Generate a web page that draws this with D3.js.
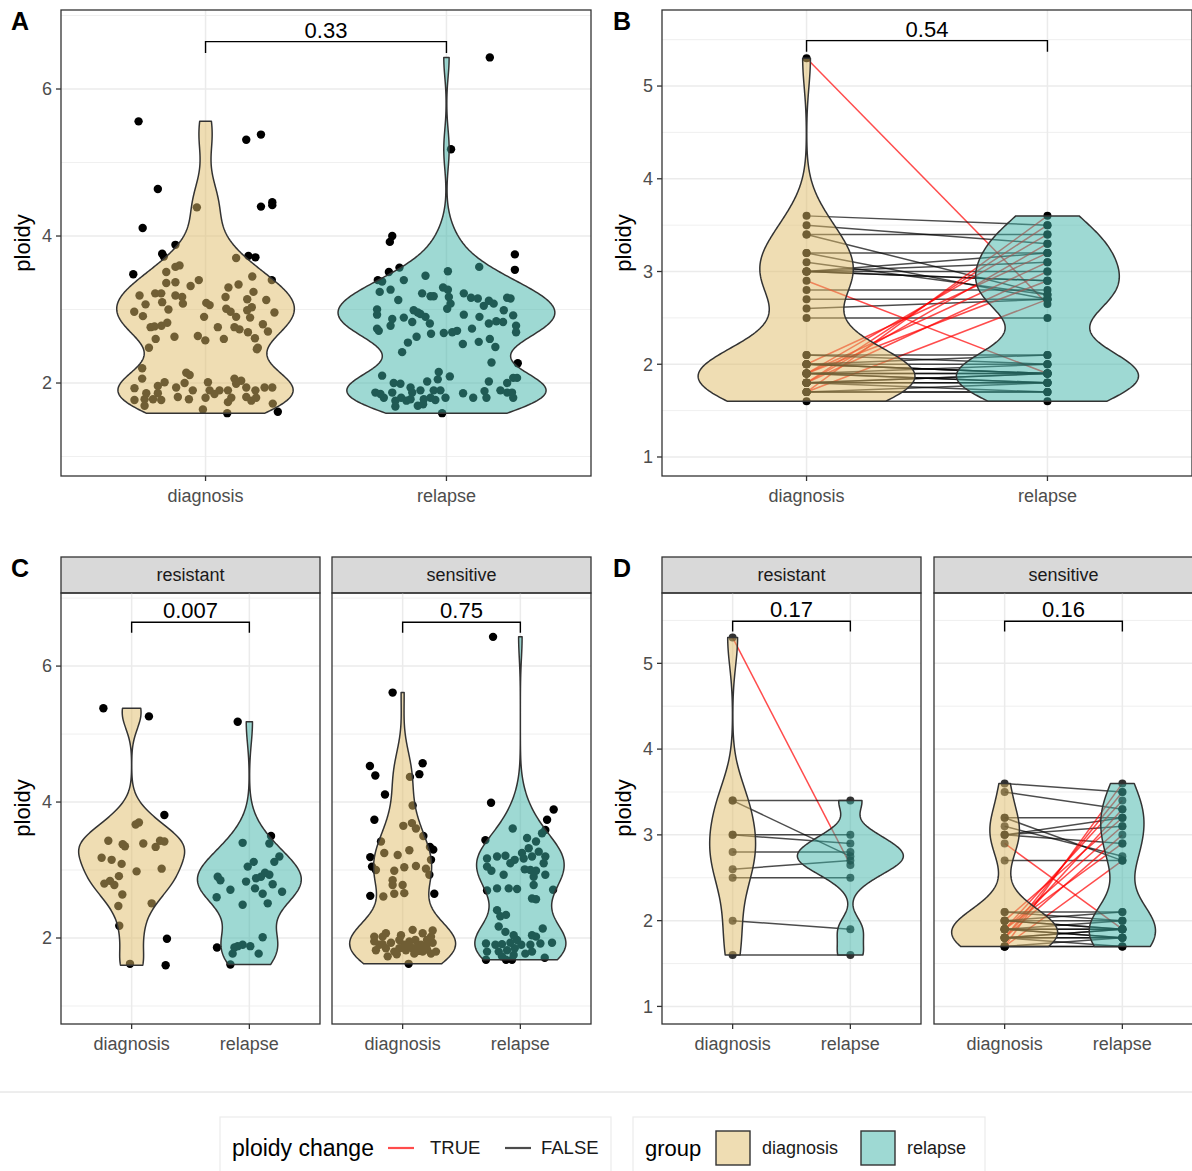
<!DOCTYPE html>
<html>
<head>
<meta charset="utf-8">
<script src="https://cdn.jsdelivr.net/npm/d3@7"></script>
<style>
  body { margin: 0; background: #fff; }
  svg { display: block; font-family: "Liberation Sans", Arial, Helvetica, sans-serif; }
</style>
</head>
<body>
<script>
// categories
var groups = ["diagnosis", "relapse"];
var facets = ["resistant", "sensitive"];

// p-values shown on the brackets
var pAll = { unpaired: "0.33", paired: "0.54" };
var pFacetUnpaired = ["0.007", "0.75"];
var pFacetPaired = ["0.17", "0.16"];

// tick values
var ticksUnpaired = [2, 4, 6];
var minorUnpaired = [1, 3, 5, 7];
var ticksPaired = [1, 2, 3, 4, 5];
var minorPaired = [1.5, 2.5, 3.5, 4.5, 5.5];

// panel A: [jitter (category units), ploidy]
var allDiagnosis = [
  [-0.278,5.56],[0.169,5.31],[0.23,5.38],[-0.198,4.64],[0.23,4.40],[0.277,4.46],[0.277,4.42],[-0.261,4.11],
  [-0.18,3.76],[-0.125,3.88],[-0.173,3.72],[0.178,3.73],[0.207,3.71],[-0.30,3.48],[0.275,3.40],[-0.235,2.48],
  [0.217,2.48],[0.09,1.59],[0.30,1.61],
  [-0.036,4.39],[0.127,3.70],[-0.108,3.60],[-0.125,3.58],[-0.163,3.51],[0.194,3.45],[-0.028,3.40],[-0.062,3.32],
  [-0.125,3.37],[-0.163,3.36],[0.095,3.30],[0.137,3.34],[0.199,3.24],[-0.274,3.19],[-0.209,3.22],[-0.184,3.22],
  [-0.125,3.19],[-0.097,3.17],[0.083,3.17],[0.252,3.13],[0.173,3.14],[-0.18,3.10],[-0.249,3.07],[-0.094,3.08],
  [0.003,3.09],[0.017,3.06],[0.192,3.03],[0.086,3.01],[0.104,2.97],[0.173,2.99],[-0.154,3.00],[-0.296,2.97],
  [-0.26,2.91],[-0.006,2.90],[0.185,2.89],[0.286,2.96],[0.127,2.90],[-0.228,2.76],[-0.212,2.77],[-0.183,2.78],
  [-0.159,2.82],[0.238,2.80],[0.051,2.76],[0.12,2.76],[0.141,2.73],[0.176,2.69],[0.259,2.70],[-0.129,2.63],
  [-0.207,2.60],[-0.032,2.64],[-0.001,2.58],[0.076,2.60],[0.205,2.61],[0.213,2.46],
  [-0.263,2.20],[-0.263,2.06],[-0.08,2.14],[-0.066,2.11],[-0.17,2.01],[-0.198,1.96],[-0.295,1.93],[-0.246,1.86],
  [-0.198,1.86],[-0.122,1.94],[-0.087,2.00],[-0.053,1.90],[0.01,2.01],[0.017,1.90],[0.058,1.90],[0.093,1.90],
  [0.12,2.06],[0.127,1.99],[0.148,2.03],[0.169,1.94],[0.245,1.94],[0.277,1.94],[0.207,1.90],[-0.295,1.77],
  [-0.253,1.78],[-0.218,1.78],[-0.184,1.77],[-0.115,1.81],[-0.069,1.78],[0,1.80],[0.037,1.85],[0.107,1.80],
  [0.169,1.81],[0.21,1.80],[-0.253,1.69],[-0.011,1.64],[0.279,1.72],[0.093,1.74],[0.19,1.76]
];
var allRelapse = [
  [0.18,6.43],[0.019,5.18],[-0.225,4.00],[-0.235,3.92],[0.284,3.75],[0.284,3.54],[-0.285,3.40],[-0.239,3.51],
  [-0.195,3.57],[0.296,2.27],[-0.018,1.59],
  [0.006,3.52],[0.136,3.58],[-0.087,3.46],[-0.177,3.40],[-0.267,3.38],[-0.277,3.24],[-0.232,3.27],[-0.2,3.13],
  [-0.101,3.22],[-0.066,3.18],[-0.053,3.18],[-0.014,3.30],[0.006,3.27],[0.01,3.17],[0.017,3.08],[0.003,3.01],
  [0.072,3.22],[0.102,3.16],[0.13,3.15],[0.155,3.05],[0.176,3.12],[0.196,3.08],[0.252,3.16],[0.266,3.15],
  [0.238,2.99],[0.277,2.92],[-0.288,3.00],[-0.288,2.93],[-0.136,2.99],[-0.119,2.96],[-0.108,2.94],[-0.087,2.90],
  [-0.069,2.81],[-0.142,2.83],[-0.177,2.89],[-0.225,2.87],[-0.232,2.78],[0.072,2.93],[0.137,2.90],[0.176,2.81],
  [0.207,2.84],[0.235,2.83],[0.289,2.78],[0.289,2.69],[-0.288,2.74],[-0.281,2.71],[-0.124,2.63],[-0.16,2.55],
  [-0.064,2.67],[-0.011,2.68],[0.024,2.69],[0.044,2.71],[0.106,2.74],[0.068,2.53],[0.134,2.56],[0.18,2.60],
  [0.203,2.49],[-0.184,2.42],[0.187,2.28],
  [-0.267,2.10],[-0.032,2.15],[-0.036,2.05],[0.014,2.09],[-0.08,2.02],[0.176,2.02],[0.277,2.07],[0.293,2.07],
  [0.252,2.00],[-0.219,2.00],[-0.191,1.99],[-0.149,1.94],[-0.295,1.87],[-0.274,1.85],[-0.225,1.87],[-0.142,1.87],
  [-0.108,1.90],[-0.053,1.90],[-0.025,1.90],[-0.004,1.80],[-0.066,1.80],[-0.094,1.78],[-0.149,1.78],[-0.212,1.76],
  [-0.26,1.80],[-0.166,1.76],[-0.119,1.69],[-0.212,1.68],[0.069,1.86],[0.111,1.80],[0.158,1.89],[0.166,1.80],
  [0.224,1.90],[0.252,1.87],[0.277,1.80],[0.272,1.87],[-0.046,1.77],[-0.097,1.71],[-0.188,1.80]
];

// panel C: [jitter, ploidy] per response group
var resistantDiagnosis = [
  [-0.24,5.38],[0.147,5.26],[0.278,3.81],[-0.105,2.18],[0.30,1.99],[0.289,1.60],[-0.014,1.62],[0.17,2.51],
  [0.034,3.67],[0.062,3.70],[-0.198,3.43],[-0.076,3.38],[-0.057,3.35],[0.099,3.39],[0.204,3.34],[0.241,3.43],
  [0.278,3.42],[-0.255,3.18],[-0.17,3.15],[-0.085,3.09],[0.255,3.02],[0.042,2.98],[-0.108,2.91],[-0.232,2.80],
  [-0.184,2.84],[-0.147,2.78],[-0.079,2.64],[-0.113,2.47]
];
var resistantRelapse = [
  [-0.099,5.18],[0.184,3.50],[-0.275,1.86],[-0.161,1.61],
  [-0.057,3.40],[0.17,3.39],[0.255,3.20],[0.212,3.12],[0.037,3.12],[-0.014,3.05],[-0.269,2.90],[-0.246,2.85],
  [-0.028,2.83],[0.057,2.88],[0.099,2.90],[0.133,2.96],[0.17,2.93],[0.048,2.73],[0.198,2.79],[-0.161,2.71],
  [0.113,2.65],[0.278,2.68],[-0.278,2.60],[-0.057,2.49],[0.156,2.51],[0.113,2.01],[-0.127,1.86],[-0.099,1.88],
  [-0.057,1.90],[-0.142,1.77],[0.008,1.88],[0.079,1.77]
];
var sensitiveDiagnosis = [
  [-0.085,5.61],[-0.278,4.53],[-0.232,4.39],[0.17,4.57],[0.142,4.41],[-0.15,4.11],[-0.24,3.74],[-0.275,3.19],
  [-0.275,2.62],[0.269,2.65],[0.26,3.30],[0.051,1.62],
  [0.062,4.37],[0.085,3.95],[0.079,3.69],[0.006,3.65],[0.113,3.61],[0.176,3.50],[0.232,3.34],[-0.184,3.42],
  [-0.156,3.25],[-0.042,3.22],[0.057,3.29],[0.241,3.15],[-0.26,3.05],[-0.227,3.00],[-0.071,2.99],[0.014,3.04],
  [0.113,3.06],[0.198,3.02],[0.227,2.93],[-0.085,2.85],[-0.085,2.78],[0,2.78],[-0.071,2.65],[0.014,2.66],
  [-0.164,2.61],
  [0.085,2.12],[-0.241,2.02],[-0.142,2.07],[0.17,2.07],[0.255,2.11],[0.241,2.02],[-0.241,1.95],[-0.17,1.91],
  [-0.099,1.93],[-0.028,1.97],[0.014,1.90],[0.057,1.95],[0.108,1.97],[0.156,1.90],[0.207,1.97],[0.255,1.93],
  [-0.227,1.82],[-0.142,1.85],[-0.028,1.85],[0.028,1.82],[0.085,1.85],[0.136,1.81],[0.207,1.83],[0.283,1.80],
  [0.241,1.77],[-0.127,1.73],[0.099,1.77],[0.17,1.80],[-0.071,1.80],[-0.198,1.90],[-0.17,2.02],[-0.014,2.04],
  [0.06,1.88],[0.12,1.86],[-0.05,1.76],[0.2,1.88]
];
var sensitiveRelapse = [
  [-0.232,6.43],[-0.249,3.99],[0.283,3.89],[0.227,3.74],[0.212,3.59],[-0.297,3.44],[-0.283,2.70],[0.278,2.71],
  [-0.292,1.68],[-0.122,1.68],[-0.071,1.68],[0.207,1.71],
  [-0.065,3.61],[0.057,3.47],[0.133,3.42],[0.184,3.54],[0.071,3.32],[0.014,3.25],[0.156,3.27],[-0.283,3.17],
  [-0.198,3.20],[-0.127,3.21],[-0.048,3.15],[0.028,3.17],[0.099,3.20],[0.212,3.20],[0.198,3.10],[-0.085,3.10],
  [-0.283,3.05],[-0.246,2.99],[-0.142,2.93],[0.037,3.01],[0.085,3.00],[0.133,2.99],[0.113,2.90],[0.212,2.93],
  [0.113,2.78],[-0.198,2.73],[-0.099,2.73],[-0.028,2.72],[0.099,2.58],[0.133,2.57],[-0.198,2.41],[-0.17,2.32],
  [-0.122,2.34],[-0.184,2.17],[-0.127,2.09],[-0.057,2.04],[0.099,2.04],[0.19,2.14],[0.133,2.02],[-0.292,1.92],
  [-0.212,1.90],[-0.156,1.91],[-0.085,1.93],[-0.028,1.97],[0.008,1.90],[0.085,1.90],[0.17,1.92],[0.269,1.93],
  [-0.283,1.80],[-0.184,1.80],[-0.113,1.82],[-0.048,1.85],[0.042,1.77],[0.099,1.80],[-0.057,1.75],[-0.156,1.73]
];

// panels B and D: paired samples [response, diagnosis, relapse, ploidy change]
var pairs = [
  ["resistant",5.3,2.65,true], ["resistant",3.4,3.4,false], ["resistant",3.4,2.75,false],
  ["resistant",3.0,3.0,false], ["resistant",3.0,2.9,false], ["resistant",2.8,2.8,false],
  ["resistant",2.6,2.7,false], ["resistant",2.5,2.5,false], ["resistant",2.0,1.9,false],
  ["resistant",1.6,1.6,false],
  ["sensitive",3.6,3.5,false], ["sensitive",3.5,3.3,false], ["sensitive",3.2,3.2,false],
  ["sensitive",3.2,2.7,false], ["sensitive",3.1,2.75,false], ["sensitive",3.0,3.2,false],
  ["sensitive",3.0,3.1,false], ["sensitive",3.0,2.9,false], ["sensitive",2.9,1.9,true],
  ["sensitive",2.7,2.7,false],
  ["sensitive",1.7,3.6,true], ["sensitive",1.8,3.5,true], ["sensitive",1.9,3.4,true],
  ["sensitive",1.8,3.3,true], ["sensitive",2.0,3.2,true], ["sensitive",1.9,3.1,true],
  ["sensitive",1.8,3.0,true], ["sensitive",1.9,2.9,true], ["sensitive",1.7,2.7,true],
  ["sensitive",2.1,2.1,false], ["sensitive",2.1,2.0,false], ["sensitive",2.0,2.0,false],
  ["sensitive",2.0,1.9,false], ["sensitive",2.0,1.9,false], ["sensitive",2.0,2.1,false],
  ["sensitive",1.9,1.9,false], ["sensitive",1.9,1.9,false], ["sensitive",1.9,1.8,false],
  ["sensitive",1.9,2.0,false], ["sensitive",1.9,1.8,false], ["sensitive",1.8,1.8,false],
  ["sensitive",1.8,1.8,false], ["sensitive",1.8,1.9,false], ["sensitive",1.8,1.9,false],
  ["sensitive",1.8,1.7,false], ["sensitive",1.7,1.7,false], ["sensitive",1.7,1.8,false],
  ["sensitive",1.7,1.7,false]
];

// colours
var fillColor = { diagnosis: "#E0BC68", relapse: "#3EB4A8" };
var fillOpacity = 0.5;
var changeColor = { "true": "#ff0000", "false": "#000000" };

var svg = d3.select("body").append("svg")
  .attr("width", 1192)
  .attr("height", 1171);

// gaussian kde, bandwidth like R's nrd0, trimmed to the data range
function nrd0(v) {
  var s = v.slice().sort(d3.ascending);
  var sd = d3.deviation(v);
  var iqr = d3.quantile(s, 0.75) - d3.quantile(s, 0.25);
  var lo = Math.min(sd, iqr / 1.34);
  if (!lo) lo = sd || 1;
  return 0.9 * lo * Math.pow(v.length, -0.2);
}
function kde(v) {
  var bw = nrd0(v), ext = d3.extent(v), out = [];
  for (var i = 0; i < 256; i++) {
    var y = ext[0] + (ext[1] - ext[0]) * i / 255, s = 0;
    v.forEach(function(x) { var z = (y - x) / bw; s += Math.exp(-0.5 * z * z); });
    out.push({ y: y, d: s / (v.length * bw * Math.sqrt(2 * Math.PI)) });
  }
  return out;
}

// grid and axes of one panel
function drawFrame(g, box, x, y, ticks, minor, showY) {
  g.selectAll(".minor").data(minor).join("line")
    .attr("x1", box.x).attr("x2", box.x + box.w)
    .attr("y1", d => y(d)).attr("y2", d => y(d))
    .attr("stroke", "#ebebeb").attr("stroke-width", 0.8);
  g.selectAll(".major").data(ticks).join("line")
    .attr("x1", box.x).attr("x2", box.x + box.w)
    .attr("y1", d => y(d)).attr("y2", d => y(d))
    .attr("stroke", "#ebebeb").attr("stroke-width", 1.5);
  g.selectAll(".vmajor").data(groups).join("line")
    .attr("x1", d => x(d)).attr("x2", d => x(d))
    .attr("y1", box.y).attr("y2", box.y + box.h)
    .attr("stroke", "#ebebeb").attr("stroke-width", 1.5);

  // x axis
  var xa = g.append("g");
  xa.selectAll("line").data(groups).join("line")
    .attr("x1", d => x(d)).attr("x2", d => x(d))
    .attr("y1", box.y + box.h).attr("y2", box.y + box.h + 5)
    .attr("stroke", "#333").attr("stroke-width", 1.3);
  xa.selectAll("text").data(groups).join("text")
    .attr("x", d => x(d)).attr("y", box.y + box.h + 26)
    .attr("text-anchor", "middle").attr("font-size", 18).attr("fill", "#4d4d4d")
    .text(d => d);

  if (showY) {
    var ya = g.append("g");
    ya.selectAll("line").data(ticks).join("line")
      .attr("x1", box.x - 5).attr("x2", box.x)
      .attr("y1", d => y(d)).attr("y2", d => y(d))
      .attr("stroke", "#333").attr("stroke-width", 1.3);
    ya.selectAll("text").data(ticks).join("text")
      .attr("x", box.x - 9).attr("y", d => y(d)).attr("dy", "0.35em")
      .attr("text-anchor", "end").attr("font-size", 18).attr("fill", "#4d4d4d")
      .text(d => d);
  }
}

function drawViolins(g, x, y, valuesByGroup) {
  var dens = groups.map(k => kde(valuesByGroup[k]));
  var maxD = d3.max(dens, arr => d3.max(arr, d => d.d));
  var half = 0.45 * x.step();
  groups.forEach(function(k, i) {
    var cx = x(k);
    var area = d3.area()
      .y(d => y(d.y))
      .x0(d => cx - d.d / maxD * half)
      .x1(d => cx + d.d / maxD * half);
    g.append("path")
      .attr("d", area(dens[i]))
      .attr("fill", fillColor[k]).attr("fill-opacity", fillOpacity)
      .attr("stroke", "#333").attr("stroke-width", 1.5)
      .attr("stroke-linejoin", "round");
  });
}

function drawBracket(g, x, y, top, tip, label) {
  var x1 = x("diagnosis"), x2 = x("relapse");
  g.append("path")
    .attr("d", d3.line()([[x1, y(tip)], [x1, y(top)], [x2, y(top)], [x2, y(tip)]]))
    .attr("fill", "none").attr("stroke", "#000").attr("stroke-width", 1.4);
  g.append("text")
    .attr("x", (x1 + x2) / 2).attr("y", y(top) - 4)
    .attr("text-anchor", "middle").attr("font-size", 22).attr("fill", "#000")
    .text(label);
}

function drawBorder(g, box) {
  g.append("rect")
    .attr("x", box.x).attr("y", box.y).attr("width", box.w).attr("height", box.h)
    .attr("fill", "none").attr("stroke", "#333").attr("stroke-width", 1.3);
}

function yTitle(x, cy) {
  svg.append("text")
    .attr("transform", `translate(${x},${cy}) rotate(-90)`)
    .attr("text-anchor", "middle").attr("font-size", 22).attr("fill", "#000")
    .text("ploidy");
}

function panelLetter(x, y, t) {
  svg.append("text").attr("x", x).attr("y", y)
    .attr("font-size", 25).attr("font-weight", "bold").attr("fill", "#000")
    .text(t);
}

function strip(box, label) {
  svg.append("rect")
    .attr("x", box.x).attr("y", 557).attr("width", box.w).attr("height", 36)
    .attr("fill", "#d9d9d9").attr("stroke", "#333").attr("stroke-width", 1.3);
  svg.append("text")
    .attr("x", box.x + box.w / 2).attr("y", 581)
    .attr("text-anchor", "middle").attr("font-size", 18).attr("fill", "#1a1a1a")
    .text(label);
}

// unpaired jitter panel
function jitterPanel(box, yDomain, data, p, showY) {
  var g = svg.append("g");
  var x = d3.scalePoint().domain(groups).range([box.x, box.x + box.w]).padding(0.6);
  var y = d3.scaleLinear().domain(yDomain).range([box.y + box.h, box.y]);
  drawFrame(g, box, x, y, ticksUnpaired, minorUnpaired, showY);
  groups.forEach(function(k) {
    g.append("g").selectAll("circle").data(data[k]).join("circle")
      .attr("cx", d => x(k) + d[0] * x.step())
      .attr("cy", d => y(d[1]))
      .attr("r", 4.2)
      .attr("fill", "#000");
  });
  drawViolins(g, x, y, {
    diagnosis: data.diagnosis.map(d => d[1]),
    relapse: data.relapse.map(d => d[1])
  });
  drawBracket(g, x, y, 6.645, 6.49, p);
  drawBorder(g, box);
}

// paired panel
function pairedPanel(box, yDomain, rows, p, showY, pointOpacity) {
  var g = svg.append("g");
  var x = d3.scalePoint().domain(groups).range([box.x, box.x + box.w]).padding(0.6);
  var y = d3.scaleLinear().domain(yDomain).range([box.y + box.h, box.y]);
  drawFrame(g, box, x, y, ticksPaired, minorPaired, showY);
  g.append("g").selectAll("line").data(rows).join("line")
    .attr("x1", x("diagnosis")).attr("x2", x("relapse"))
    .attr("y1", d => y(d[1])).attr("y2", d => y(d[2]))
    .attr("stroke", d => changeColor[d[3]]).attr("stroke-opacity", 0.7)
    .attr("stroke-width", 1.5);
  groups.forEach(function(k, i) {
    g.append("g").selectAll("circle").data(rows).join("circle")
      .attr("cx", x(k))
      .attr("cy", d => y(d[i + 1]))
      .attr("r", 4)
      .attr("fill", "#000").attr("fill-opacity", pointOpacity);
  });
  drawViolins(g, x, y, {
    diagnosis: rows.map(d => d[1]),
    relapse: rows.map(d => d[2])
  });
  drawBracket(g, x, y, 5.49, 5.37, p);
  drawBorder(g, box);
}

var domUnpaired = [0.735, 7.075];
var domPaired = [0.795, 5.82];

// A
jitterPanel({ x: 61, y: 10, w: 530, h: 466 }, domUnpaired,
  { diagnosis: allDiagnosis, relapse: allRelapse }, pAll.unpaired, true);
yTitle(30, 243);
panelLetter(11, 30, "A");

// B
pairedPanel({ x: 662, y: 10, w: 530, h: 466 }, domPaired, pairs, pAll.paired, true, 1);
yTitle(631, 243);
panelLetter(613, 30, "B");

// C
var cBoxes = [{ x: 61, y: 593, w: 259, h: 431 }, { x: 332, y: 593, w: 259, h: 431 }];
var cData = [
  { diagnosis: resistantDiagnosis, relapse: resistantRelapse },
  { diagnosis: sensitiveDiagnosis, relapse: sensitiveRelapse }
];
facets.forEach(function(f, i) {
  strip(cBoxes[i], f);
  jitterPanel(cBoxes[i], domUnpaired, cData[i], pFacetUnpaired[i], i === 0);
});
yTitle(30, 808);
panelLetter(11, 577, "C");

// D
var dBoxes = [{ x: 662, y: 593, w: 259, h: 431 }, { x: 934, y: 593, w: 259, h: 431 }];
facets.forEach(function(f, i) {
  strip(dBoxes[i], f);
  pairedPanel(dBoxes[i], domPaired, pairs.filter(d => d[0] === f), pFacetPaired[i], i === 0, 0.8);
});
yTitle(631, 808);
panelLetter(613, 577, "D");

// legend
svg.append("line").attr("x1", 0).attr("x2", 1192).attr("y1", 1092).attr("y2", 1092)
  .attr("stroke", "#dcdcdc").attr("stroke-width", 1);

var lg = svg.append("g");
lg.append("rect").attr("x", 220).attr("y", 1117).attr("width", 391).attr("height", 70)
  .attr("fill", "none").attr("stroke", "#ebebeb").attr("stroke-width", 1.2);
lg.append("text").attr("x", 232).attr("y", 1156).attr("font-size", 23).text("ploidy change");
var changeKeys = [
  { k: "true", x: 388, tx: 430, label: "TRUE" },
  { k: "false", x: 505, tx: 541, label: "FALSE" }
];
changeKeys.forEach(function(c) {
  lg.append("line").attr("x1", c.x).attr("x2", c.x + 26).attr("y1", 1148).attr("y2", 1148)
    .attr("stroke", changeColor[c.k]).attr("stroke-opacity", 0.7).attr("stroke-width", 2.2);
  lg.append("text").attr("x", c.tx).attr("y", 1154).attr("font-size", 18.5).attr("fill", "#1a1a1a")
    .text(c.label);
});

lg.append("rect").attr("x", 633).attr("y", 1117).attr("width", 352).attr("height", 70)
  .attr("fill", "none").attr("stroke", "#ebebeb").attr("stroke-width", 1.2);
lg.append("text").attr("x", 645).attr("y", 1156).attr("font-size", 22).text("group");
var groupKeyX = { diagnosis: 716, relapse: 861 };
groups.forEach(function(k) {
  lg.append("rect").attr("x", groupKeyX[k]).attr("y", 1131).attr("width", 34).attr("height", 34)
    .attr("fill", fillColor[k]).attr("fill-opacity", fillOpacity)
    .attr("stroke", "#333").attr("stroke-width", 1.4);
  lg.append("text").attr("x", groupKeyX[k] + 46).attr("y", 1154).attr("font-size", 18).attr("fill", "#1a1a1a")
    .text(k);
});
</script>
</body>
</html>
